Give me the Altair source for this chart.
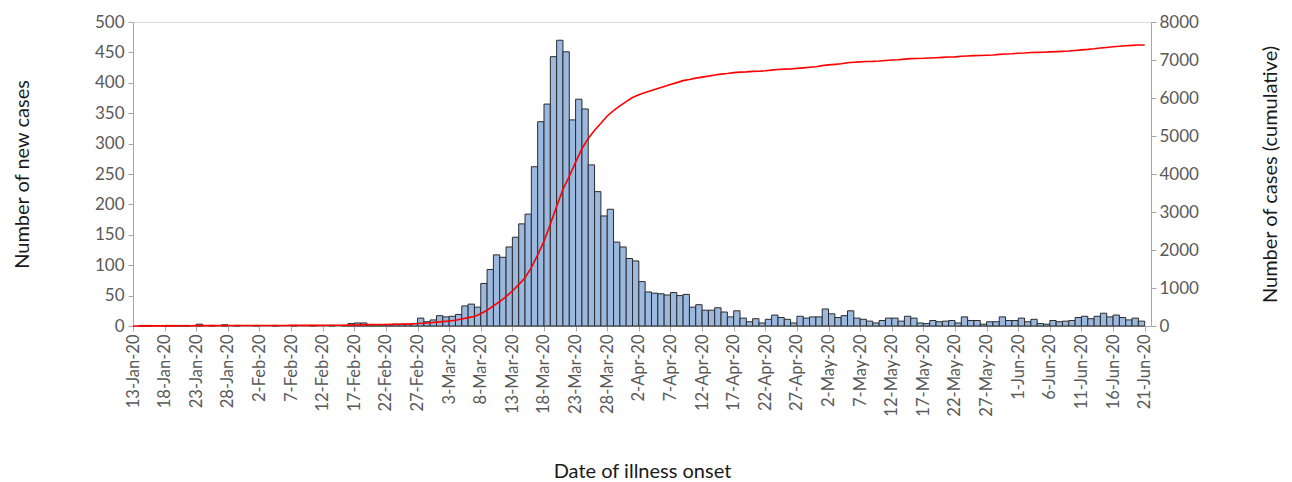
import altair as alt
import pandas as pd
import numpy as np

# Daily new cases by date of illness onset, 13-Jan-20 .. 21-Jun-20
start_date = "2020-01-13"
new_cases = [
    0, 1, 1, 0, 0, 1, 1, 1, 1, 0,
    3, 0, 1, 0, 2, 0, 1, 0, 0, 1,
    0, 0, 1, 0, 0, 1, 0, 0, 1, 0,
    0, 1, 0, 1, 4, 5, 5, 2, 2, 2,
    2, 3, 3, 3, 4,
    13, 7, 10, 17, 15, 16, 19, 33, 36, 31,
    70, 93, 117, 113, 130, 146, 168, 184, 262, 336,
    365, 443, 470, 451, 339, 373, 357, 265, 221, 181,
    192, 138, 130, 111, 107, 73, 56, 54, 53,
    51, 55, 50, 52, 31, 35, 26, 26, 30, 23, 15, 25, 13, 7, 12, 5, 11, 18, 14, 11, 5, 16, 13, 15, 15,
    28, 20, 14, 17, 25, 13, 11, 8, 5, 9, 13, 13, 8, 16, 13, 5, 4, 9, 7, 8, 9, 5, 15, 9, 9,
    3, 7, 7, 15, 9, 9, 13, 7, 11, 4, 3, 9, 7, 8, 9, 14, 16, 12, 16, 21, 15, 18, 14, 10, 13, 8, 0,
]
left_ticks = list(range(0, 501, 50))
right_ticks = list(range(0, 8001, 1000))

dates = pd.date_range(start_date, periods=len(new_cases), freq="D")
df = pd.DataFrame({
    "date": dates.strftime("%Y-%m-%d"),
    "date_end": (dates + pd.Timedelta(days=1)).strftime("%Y-%m-%d"),
    "new": new_cases,
    "cum": np.cumsum(new_cases),
})


def ms(d):
    return int(pd.Timestamp(d, tz="UTC").timestamp() * 1000)


tick_ms = [ms(d) for d in pd.date_range(start_date, "2020-06-21", freq="5D")]
x_domain = [ms("2020-01-13"), ms("2020-06-22")]

FONT = "Lato"
AX = "#a6a6a6"
LAB = "#595959"

xscale = alt.Scale(type="utc", domain=x_domain, nice=False)
xaxis = alt.Axis(
    values=tick_ms,
    labelExpr="utcFormat(datum.value, '%-d-%b-%y')",
    labelAngle=270, labelFontSize=16.5, labelColor=LAB, labelPadding=3,
    tickSize=5, tickColor=AX, domainColor=AX, grid=False,
    title="Date of illness onset", titleFontSize=20, titleFontWeight="normal",
    titleColor="#1a1a1a", titlePadding=45,
)

bars = alt.Chart(df).transform_filter("datum.new > 0").mark_rect(
    fill="#9bb8df", stroke="#2b2b2b", strokeWidth=1
).encode(
    x=alt.X("date:T", scale=xscale, axis=xaxis),
    x2="date_end:T",
    y=alt.Y("new:Q", scale=alt.Scale(domain=[0, 500], nice=False), axis=alt.Axis(
        values=left_ticks, labelFontSize=17, labelColor=LAB, labelPadding=4,
        tickSize=5, tickColor=AX, domainColor=AX, grid=False,
        title="Number of new cases", titleFontSize=20, titleFontWeight="normal",
        titleColor="#1a1a1a", titlePadding=62,
    )),
    y2=alt.datum(0),
)

line = alt.Chart(df).mark_line(color="#ff0000", strokeWidth=1.6).encode(
    x=alt.X("date:T", scale=xscale, axis=xaxis),
    y=alt.Y("cum:Q", scale=alt.Scale(domain=[0, 8000], nice=False), axis=alt.Axis(
        orient="right", values=right_ticks, format="d", labelFontSize=17, labelColor=LAB,
        labelPadding=3, tickSize=5, tickColor=AX, domainColor=AX, grid=False,
        title="Number of cases (cumulative)", titleFontSize=20, titleFontWeight="normal",
        titleColor="#1a1a1a", titleAngle=270, titleBaseline="top", titlePadding=62,
    )),
)

chart = alt.layer(bars, line).resolve_scale(y="independent").properties(
    width=1018, height=304,
    padding={"left": 4, "top": 5, "right": 2, "bottom": 0},
).configure_view(stroke=None).configure(font=FONT)

chart.save("out.html", embed_options={"renderer": "svg", "actions": False})
